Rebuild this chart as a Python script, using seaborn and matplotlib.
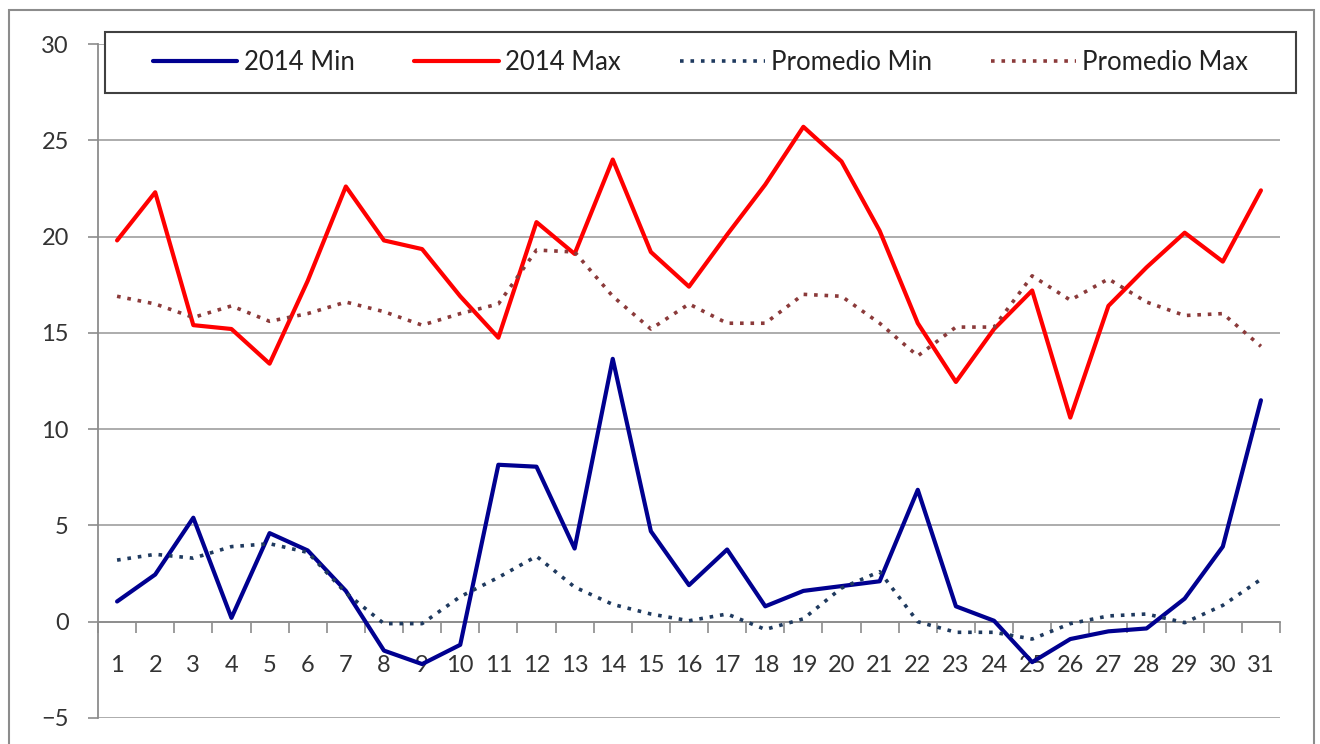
import numpy as np
import pandas as pd
import matplotlib
matplotlib.use("Agg")
import matplotlib.pyplot as plt
from matplotlib.patches import Rectangle
from matplotlib.ticker import MultipleLocator
import seaborn as sns

# ---------------------------------------------------------
# Data
# ---------------------------------------------------------
days = list(range(1, 32))

min_2014 = [1.05, 2.45, 5.4, 0.2, 4.6, 3.7, 1.6, -1.5, -2.2, -1.2,
            8.15, 8.05, 3.8, 13.65, 4.7, 1.9, 3.75, 0.8, 1.6, 1.85,
            2.1, 6.85, 0.8, 0.05, -2.1, -0.9, -0.5, -0.35, 1.2, 3.9,
            11.5]
max_2014 = [19.8, 22.3, 15.4, 15.2, 13.4, 17.7, 22.6, 19.8, 19.35, 16.9,
            14.75, 20.75, 19.1, 24.0, 19.2, 17.4, 20.1, 22.7, 25.7, 23.9,
            20.3, 15.5, 12.45, 15.2, 17.2, 10.6, 16.4, 18.4, 20.2, 18.7,
            22.4]
prom_min = [3.2, 3.5, 3.3, 3.9, 4.05, 3.6, 1.5, -0.1, -0.1, 1.3,
            2.3, 3.4, 1.8, 0.9, 0.4, 0.05, 0.4, -0.4, 0.15, 1.75,
            2.6, 0.0, -0.55, -0.55, -0.9, -0.1, 0.3, 0.4, -0.05, 0.85,
            2.2]
prom_max = [16.9, 16.5, 15.8, 16.4, 15.6, 16.0, 16.6, 16.1, 15.4, 16.0,
            16.5, 19.3, 19.2, 16.9, 15.2, 16.5, 15.5, 15.5, 17.0, 16.9,
            15.5, 13.8, 15.3, 15.3, 17.96, 16.7, 17.8, 16.6, 15.9, 16.0,
            14.3]

labels = ["2014 Min", "2014 Max", "Promedio Min", "Promedio Max"]
y_ticks = [-5, 0, 5, 10, 15, 20, 25, 30]

# ---------------------------------------------------------
# Styling
# ---------------------------------------------------------
sns.set_style("white")
plt.rcParams["font.family"] = ["Lato", "DejaVu Sans"]

W, H = 1320, 744
fig = plt.figure(figsize=(W / 100, H / 100), dpi=100)
ax = fig.add_axes([98 / W, 1 - 718 / H, (1280 - 98) / W, (718 - 44) / H])

series = [
    (min_2014, labels[0], "#000090", "-"),
    (max_2014, labels[1], "#FF0000", "-"),
    (prom_min, labels[2], "#1F3A5F", (0, (1, 1.9))),
    (prom_max, labels[3], "#8B3A3A", (0, (1, 1.9))),
]

for vals, lab, col, ls in series:
    df = pd.DataFrame({"dia": days, "temp": vals})
    lw = 3 if ls == "-" else 2.6
    sns.lineplot(data=df, x="dia", y="temp", ax=ax, color=col,
                 linewidth=lw, linestyle=ls, label=lab, zorder=3)

# axes limits and grid
ax.set_xlim(0.5, 31.5)
ax.set_ylim(-5, 30)
ax.set_yticks(y_ticks)
ax.yaxis.grid(True, color="#A6A6A6", linewidth=1.3)
ax.set_axisbelow(True)
ax.set_xlabel("")
ax.set_ylabel("")

for s in ["top", "right"]:
    ax.spines[s].set_visible(False)
ax.spines["left"].set_color("#8C8C8C")
ax.spines["left"].set_linewidth(1.3)
ax.spines["bottom"].set_position(("data", 0))
ax.spines["bottom"].set_color("#8C8C8C")
ax.spines["bottom"].set_linewidth(1.3)

# x: labels at centres, tick marks between categories
ax.set_xticks(days)
ax.set_xticklabels([str(d) for d in days])
ax.xaxis.set_minor_locator(MultipleLocator(1, offset=0.5))
ax.tick_params(axis="x", which="major", length=0, pad=24,
               labelsize=17, labelcolor="#333333")
ax.tick_params(axis="x", which="minor", bottom=True, length=8,
               width=1.2, color="#8C8C8C", direction="out")
ax.tick_params(axis="y", which="major", left=True, length=7, width=1.2,
               color="#8C8C8C", pad=14, labelsize=17, labelcolor="#333333")

# legend box across the top (frame drawn separately, entries centred)
x0, x1, y0, y1 = 105, 1296, 32, 93
fig.patches.append(Rectangle((x0 / W, 1 - y1 / H), (x1 - x0) / W, (y1 - y0) / H,
                             transform=fig.transFigure, facecolor="white",
                             edgecolor="#404040", linewidth=1.5, zorder=4))
handles, labs = ax.get_legend_handles_labels()
ax.get_legend().remove()
leg = fig.legend(handles, labs, ncol=4, loc="center",
                 bbox_to_anchor=((x0 + x1) / 2 / W, 1 - (y0 + y1) / 2 / H),
                 fontsize=18.5, frameon=False, handlelength=3.3,
                 handletextpad=0.25, columnspacing=2.3)
leg.set_zorder(5)
for t in leg.get_texts():
    t.set_color("#222222")

# outer chart border
fig.patches.append(Rectangle((9 / W, -0.05), (1314 - 9) / W, 0.05 + 1 - 10 / H,
                             transform=fig.transFigure, fill=False,
                             edgecolor="#8C8C8C", linewidth=1.5))

fig.savefig("out.png", dpi=100)
